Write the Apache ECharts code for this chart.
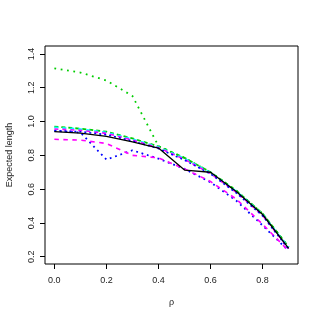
<!DOCTYPE html>
<html><head><meta charset="utf-8">
<script src="https://cdn.jsdelivr.net/npm/echarts@6/dist/echarts.min.js"></script>
<style>html,body{margin:0;padding:0;background:#fff}#c{width:322px;height:322px}</style>
</head><body><div id="c"></div>
<script>
const rho = [0.0,0.1,0.2,0.3,0.4,0.5,0.6,0.7,0.8,0.9];
const greenDash = [0.970,0.958,0.940,0.900,0.853,0.785,0.700,0.590,0.455,0.258];
const cyanDash = [0.966,0.955,0.936,0.896,0.849,0.781,0.697,0.586,0.451,0.254];
const magentaDash = [0.956,0.948,0.930,0.890,0.845,0.776,0.692,0.580,0.445,0.248];
const blueDash = [0.946,0.940,0.922,0.885,0.840,0.772,0.690,0.576,0.442,0.245];
const blackSolid = [0.940,0.932,0.912,0.880,0.843,0.713,0.700,0.585,0.450,0.250];
const greenDot = [1.315,1.290,1.243,1.151,0.855,0.785,0.700,0.590,0.455,0.258];
const blueDot = [0.945,0.935,0.775,0.830,0.780,0.720,0.640,0.530,0.385,0.235];
const magentaLow = [0.895,0.890,0.870,0.800,0.785,0.720,0.645,0.540,0.392,0.235];
const xTicks = [0.0,0.2,0.4,0.6,0.8];
const yTicks = [0.2,0.4,0.6,0.8,1.0,1.2,1.4];

function mk(name, vals, color, type, width) {
  return {
    name, type: 'line', data: rho.map((r,i)=>[r, vals[i]]),
    showSymbol: false, symbol: 'none', animation: false,
    lineStyle: {color, width, type}
  };
}
const chart = echarts.init(document.getElementById('c'), null, {renderer:'canvas'});
const font = 'Liberation Sans, Arial, sans-serif';
chart.setOption({
  animation: false,
  backgroundColor: '#fff',
  grid: {left: 45, right: 24, top: 46, bottom: 58, show: true, borderColor: '#000', borderWidth: 1, backgroundColor: 'transparent', outerBoundsMode: 'none', containLabel: false},
  xAxis: {
    type: 'value', min: -0.036, max: 0.936,
    axisLine: {show: false, onZero: false},
    splitLine: {show: false},
    axisTick: {show: true, inside: false, length: 5, lineStyle: {color: '#000'}, customValues: xTicks},
    axisLabel: {customValues: xTicks, formatter: v => v.toFixed(1), fontSize: 9, fontFamily: font, color: '#222', margin: 12},
    name: 'ρ', nameLocation: 'middle', nameGap: 34,
    nameTextStyle: {fontSize: 9, fontFamily: font, color: '#222'}
  },
  yAxis: {
    type: 'value', min: 0.157, max: 1.447,
    axisLine: {show: false, onZero: false},
    splitLine: {show: false},
    axisTick: {show: true, inside: false, length: 5, lineStyle: {color: '#000'}, customValues: yTicks},
    axisLabel: {customValues: yTicks, formatter: v => v.toFixed(1), fontSize: 9, fontFamily: font, color: '#222', rotate: 90, margin: 9},
    name: 'Expected length', nameLocation: 'middle', nameGap: 31,
    nameTextStyle: {fontSize: 9, fontFamily: font, color: '#222'}
  },
  series: [
    mk('greenDot', greenDot, '#00CD00', [1.8,4.6], 1.8),
    mk('blueDot', blueDot, '#0000FF', [1.8,3.8], 1.8),
    mk('magentaLow', magentaLow, '#FF00FF', [4.5,4.5], 1.6),
    mk('greenDash', greenDash, '#00CD00', [4,3], 1.8),
    mk('cyanDash', cyanDash, '#00FFFF', [4,4], 1.8),
    mk('magentaDash', magentaDash, '#FF00FF', [4,4], 1.6),
    mk('blueDash', blueDash, '#0000FF', [2,3], 1.6),
    mk('blackSolid', blackSolid, '#000000', 'solid', 1.3)
  ]
});
</script>
</body></html>
